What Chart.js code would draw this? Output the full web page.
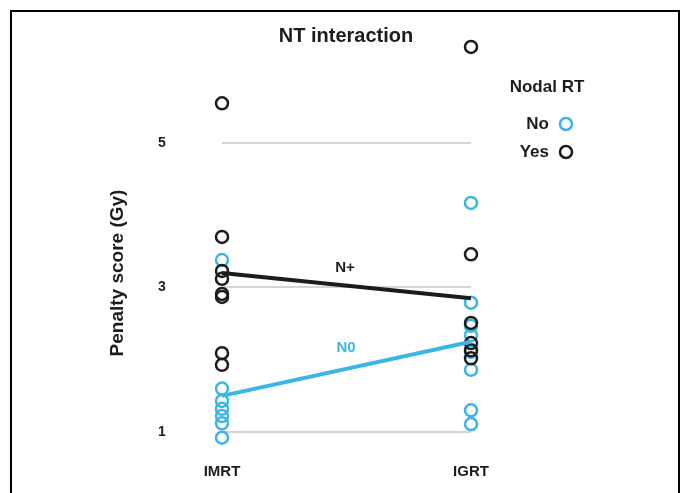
<!DOCTYPE html>
<html>
<head>
<meta charset="utf-8">
<script src="https://cdn.jsdelivr.net/npm/chart.js@4"></script>
<style>
html, body { margin: 0; padding: 0; background: #fff; }
#wrap { width: 681px; height: 493px; }
</style>
</head>
<body>
<div id="wrap"><canvas id="chart" width="681" height="493"></canvas></div>
<script>
const categories = ['IMRT', 'IGRT'];
const yTicks = [1, 3, 5];

// individual penalty scores
const noImrt = [3.38, 1.60, 1.43, 1.32, 1.22, 1.12, 0.92];
const noIgrt = [4.17, 2.79, 2.47, 2.34, 2.11, 1.86, 1.30, 1.11];
const yesImrt = [5.55, 3.70, 3.23, 3.12, 2.91, 2.87, 2.09, 1.93];
const yesIgrt = [6.33, 3.46, 2.51, 2.23, 2.13, 2.02];

// interaction lines
const n0Line = [1.50, 2.25];
const nPlusLine = [3.20, 2.85];

const BLUE = '#3bb5e6';
const BLACK = '#1c1c1c';
const FONT = '"Liberation Sans", Arial, sans-serif';

function pts(a, b) {
    return a.map(v => ({x: categories[0], y: v})).concat(b.map(v => ({x: categories[1], y: v})));
}

const pointStyle = {
    showLine: false,
    pointRadius: 6,
    pointBorderWidth: 2.5,
    pointBackgroundColor: 'rgba(0,0,0,0)',
    pointHoverRadius: 6
};

const overlay = {
    id: 'overlay',
    afterDraw(chart) {
        const ctx = chart.ctx;
        ctx.save();
        // frame
        ctx.strokeStyle = '#000';
        ctx.lineWidth = 2;
        ctx.beginPath();
        ctx.moveTo(11, 493);
        ctx.lineTo(11, 11);
        ctx.lineTo(679, 11);
        ctx.lineTo(679, 493);
        ctx.stroke();

        ctx.fillStyle = BLACK;
        ctx.textBaseline = 'middle';
        ctx.textAlign = 'center';
        ctx.font = 'bold 20px ' + FONT;
        ctx.fillText('NT interaction', 346, 36);

        // y axis title
        ctx.save();
        ctx.translate(118, 273);
        ctx.rotate(-Math.PI / 2);
        ctx.font = 'bold 19px ' + FONT;
        ctx.fillText('Penalty score (Gy)', 0, 0);
        ctx.restore();

        // line labels
        ctx.font = 'bold 15px ' + FONT;
        ctx.fillText('N+', 345, 268);
        ctx.fillStyle = BLUE;
        ctx.fillText('N0', 346, 348);

        // legend
        ctx.fillStyle = BLACK;
        ctx.font = 'bold 17px ' + FONT;
        ctx.fillText('Nodal RT', 547, 87);
        ctx.textAlign = 'right';
        const items = chart.data.datasets.filter(d => d.legend);
        items.forEach((d, i) => {
            const y = 124 + i * 28;
            ctx.fillStyle = BLACK;
            ctx.fillText(d.label, 549, y);
            ctx.beginPath();
            ctx.arc(566, y, 6, 0, Math.PI * 2);
            ctx.lineWidth = 2.5;
            ctx.strokeStyle = d.pointBorderColor;
            ctx.stroke();
        });
        ctx.restore();
    }
};

new Chart(document.getElementById('chart'), {
    type: 'line',
    data: {
        labels: categories,
        datasets: [
            {label: 'N+', data: nPlusLine, borderColor: BLACK, borderWidth: 4, pointRadius: 0, order: 1},
            {label: 'N0', data: n0Line, borderColor: BLUE, borderWidth: 4, pointRadius: 0, order: 1},
            Object.assign({label: 'No', legend: true, data: pts(noImrt, noIgrt), pointBorderColor: BLUE, order: 3}, pointStyle),
            Object.assign({label: 'Yes', legend: true, data: pts(yesImrt, yesIgrt), pointBorderColor: BLACK, order: 2}, pointStyle)
        ]
    },
    options: {
        responsive: false,
        animation: false,
        devicePixelRatio: 1,
        clip: false,
        layout: {padding: {left: 158, right: 210, top: 41.9, bottom: 0}},
        plugins: {
            legend: {display: false},
            title: {display: false},
            tooltip: {enabled: false}
        },
        scales: {
            x: {
                type: 'category',
                offset: false,
                grid: {display: false},
                border: {display: false},
                ticks: {padding: 12, color: BLACK, font: {family: FONT, size: 15, weight: 'bold'}},
                afterFit: s => { s.height = 50.2; }
            },
            y: {
                min: 0.85,
                max: 6.4,
                grid: {color: '#d4d4d4', lineWidth: 2, drawTicks: false},
                border: {display: false},
                ticks: {padding: 0, crossAlign: 'far', color: BLACK, font: {family: FONT, size: 14, weight: 'bold'}},
                afterBuildTicks: s => { s.ticks = yTicks.map(v => ({value: v})); },
                afterFit: s => { s.width = 64; }
            }
        }
    },
    plugins: [overlay]
});
</script>
</body>
</html>
